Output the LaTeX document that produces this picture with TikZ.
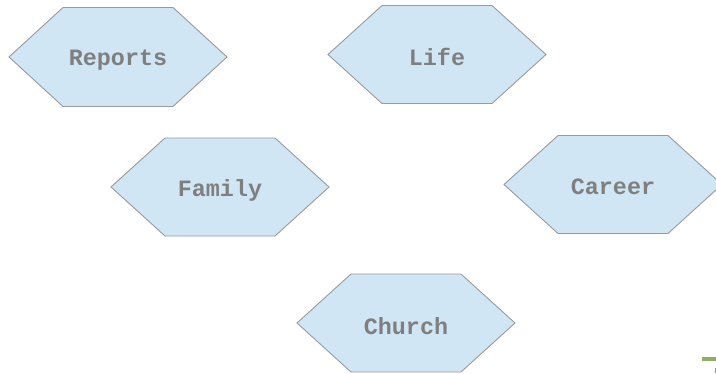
\documentclass[tikz,border=0pt]{standalone}
\usepackage{fontspec}
\setmonofont{Liberation Mono}
\begin{document}
\begin{tikzpicture}[x=1pt,y=-1pt,
  hexfill/.style={fill=hexblue,draw=hexgray,line width=0.9pt,line join=miter},
  hexlabel/.style={font=\ttfamily\bfseries\fontsize{23.4}{28}\selectfont,text=labelgray,inner sep=0pt,anchor=center}]
\definecolor{hexblue}{HTML}{D0E6F4}
\definecolor{hexgray}{HTML}{9A9A9A}
\definecolor{labelgray}{HTML}{7F7F7F}
\definecolor{markgreen}{HTML}{92AE62}
\useasboundingbox (0,0) rectangle (716,373);
\draw[hexfill] (9,57) -- (63,7.5) -- (173,7.5) -- (227,57) -- (173,106.5) -- (63,106.5) -- cycle;
\node[hexlabel] (reports) at (118,60) {Reports};
\draw[hexfill] (328,54.5) -- (382,5.5) -- (492,5.5) -- (546,54.5) -- (492,103.5) -- (382,103.5) -- cycle;
\node[hexlabel] (life) at (437,57) {Life};
\draw[hexfill] (111,187) -- (165,138) -- (275,138) -- (329,187) -- (275,236) -- (165,236) -- cycle;
\node[hexlabel] (family) at (220,190) {Family};
\draw[hexfill] (504,184.5) -- (558,135.5) -- (668,135.5) -- (722,184.5) -- (668,233.5) -- (558,233.5) -- cycle;
\node[hexlabel] (career) at (613,187) {Career};
\draw[hexfill] (297,323) -- (351,274) -- (461,274) -- (515,323) -- (461,372) -- (351,372) -- cycle;
\node[hexlabel] (church) at (406,326) {Church};
\fill[markgreen] (702,357) rectangle (716,361);
\fill[hexgray] (715,368) rectangle (716,373);
\end{tikzpicture}
\end{document}
